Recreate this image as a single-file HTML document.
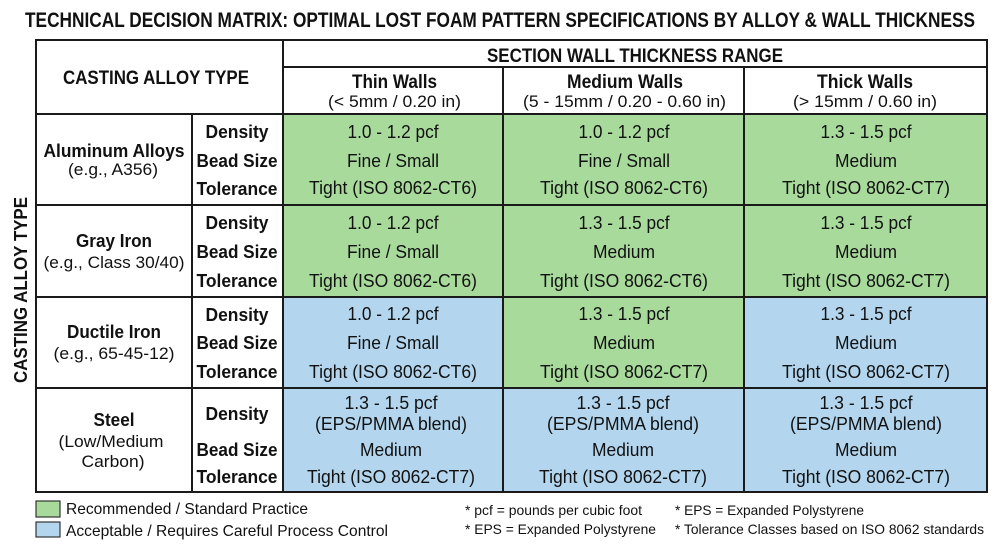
<!DOCTYPE html>
<html><head><meta charset="utf-8"><style>
html,body{margin:0;padding:0;background:#fff;}
svg{display:block;}
text{font-family:"Liberation Sans",Arial,sans-serif;fill:#111;}
.b{font-weight:bold;}
</style></head><body>
<svg width="1000" height="545" viewBox="0 0 1000 545" xmlns="http://www.w3.org/2000/svg">
<rect width="1000" height="545" fill="#fff"/>
<!-- title -->
<text class="b" x="25" y="27" font-size="21" textLength="950" lengthAdjust="spacingAndGlyphs">TECHNICAL DECISION MATRIX: OPTIMAL LOST FOAM PATTERN SPECIFICATIONS BY ALLOY &amp; WALL THICKNESS</text>

<!-- cell fills -->
<g>
<rect x="283" y="114" width="220" height="91" fill="#a8da9c"/>
<rect x="503" y="114" width="241" height="91" fill="#a8da9c"/>
<rect x="744" y="114" width="243" height="91" fill="#a8da9c"/>
<rect x="283" y="205" width="220" height="92" fill="#a8da9c"/>
<rect x="503" y="205" width="241" height="92" fill="#a8da9c"/>
<rect x="744" y="205" width="243" height="92" fill="#a8da9c"/>
<rect x="283" y="297" width="220" height="91" fill="#b3d6ee"/>
<rect x="503" y="297" width="241" height="91" fill="#a8da9c"/>
<rect x="744" y="297" width="243" height="91" fill="#b3d6ee"/>
<rect x="283" y="388" width="220" height="104" fill="#b3d6ee"/>
<rect x="503" y="388" width="241" height="104" fill="#b3d6ee"/>
<rect x="744" y="388" width="243" height="104" fill="#b3d6ee"/>
</g>

<!-- grid lines -->
<g stroke="#1a1a1a" stroke-width="2" fill="none">
<rect x="36" y="40" width="951" height="452"/>
<line x1="283" y1="40" x2="283" y2="492"/>
<line x1="192" y1="114" x2="192" y2="492"/>
<line x1="503" y1="67" x2="503" y2="492"/>
<line x1="744" y1="67" x2="744" y2="492"/>
<line x1="283" y1="67" x2="987" y2="67"/>
<line x1="36" y1="114" x2="987" y2="114"/>
<line x1="36" y1="205" x2="987" y2="205"/>
<line x1="36" y1="297" x2="987" y2="297"/>
<line x1="36" y1="388" x2="987" y2="388"/>
</g>

<!-- headers -->
<text class="b" x="63" y="84" font-size="19" textLength="186" lengthAdjust="spacingAndGlyphs">CASTING ALLOY TYPE</text>
<text class="b" x="487" y="62" font-size="19" textLength="296" lengthAdjust="spacingAndGlyphs">SECTION WALL THICKNESS RANGE</text>
<text class="b" x="352" y="88" font-size="19" textLength="85" lengthAdjust="spacingAndGlyphs">Thin Walls</text>
<text x="328" y="107" font-size="17" textLength="133" lengthAdjust="spacingAndGlyphs">(&lt; 5mm / 0.20 in)</text>
<text class="b" x="567" y="88" font-size="19" textLength="116" lengthAdjust="spacingAndGlyphs">Medium Walls</text>
<text x="523" y="107" font-size="17" textLength="203" lengthAdjust="spacingAndGlyphs">(5 - 15mm / 0.20 - 0.60 in)</text>
<text class="b" x="817" y="88" font-size="19" textLength="96" lengthAdjust="spacingAndGlyphs">Thick Walls</text>
<text x="793" y="107" font-size="17" textLength="144" lengthAdjust="spacingAndGlyphs">(&gt; 15mm / 0.60 in)</text>

<!-- vertical label -->
<text class="b" transform="translate(27,290) rotate(-90)" x="-93" y="0" font-size="18.5" textLength="186" lengthAdjust="spacingAndGlyphs">CASTING ALLOY TYPE</text>

<!-- alloy names -->
<g text-anchor="middle">
<text class="b" x="114" y="157" font-size="18" textLength="141" lengthAdjust="spacingAndGlyphs">Aluminum Alloys</text>
<text x="113" y="175" font-size="17" textLength="90" lengthAdjust="spacingAndGlyphs">(e.g., A356)</text>
<text class="b" x="114" y="247" font-size="18" textLength="76" lengthAdjust="spacingAndGlyphs">Gray Iron</text>
<text x="114" y="268" font-size="17" textLength="141" lengthAdjust="spacingAndGlyphs">(e.g., Class 30/40)</text>
<text class="b" x="114" y="338" font-size="18" textLength="94" lengthAdjust="spacingAndGlyphs">Ductile Iron</text>
<text x="114" y="359" font-size="17" textLength="121" lengthAdjust="spacingAndGlyphs">(e.g., 65-45-12)</text>
<text class="b" x="114" y="426" font-size="18" textLength="41" lengthAdjust="spacingAndGlyphs">Steel</text>
<text x="111" y="447" font-size="17" textLength="105" lengthAdjust="spacingAndGlyphs">(Low/Medium</text>
<text x="113" y="467" font-size="17" textLength="63" lengthAdjust="spacingAndGlyphs">Carbon)</text>
</g>

<!-- property labels -->
<g text-anchor="middle" class="b">
<text class="b" x="237" y="138" font-size="18" textLength="63" lengthAdjust="spacingAndGlyphs">Density</text>
<text class="b" x="237" y="167" font-size="18" textLength="81" lengthAdjust="spacingAndGlyphs">Bead Size</text>
<text class="b" x="237" y="195" font-size="18" textLength="81" lengthAdjust="spacingAndGlyphs">Tolerance</text>
<text class="b" x="237" y="229" font-size="18" textLength="63" lengthAdjust="spacingAndGlyphs">Density</text>
<text class="b" x="237" y="258" font-size="18" textLength="81" lengthAdjust="spacingAndGlyphs">Bead Size</text>
<text class="b" x="237" y="287" font-size="18" textLength="81" lengthAdjust="spacingAndGlyphs">Tolerance</text>
<text class="b" x="237" y="321" font-size="18" textLength="63" lengthAdjust="spacingAndGlyphs">Density</text>
<text class="b" x="237" y="349" font-size="18" textLength="81" lengthAdjust="spacingAndGlyphs">Bead Size</text>
<text class="b" x="237" y="378" font-size="18" textLength="81" lengthAdjust="spacingAndGlyphs">Tolerance</text>
<text class="b" x="237" y="420" font-size="18" textLength="63" lengthAdjust="spacingAndGlyphs">Density</text>
<text class="b" x="237" y="456" font-size="18" textLength="81" lengthAdjust="spacingAndGlyphs">Bead Size</text>
<text class="b" x="237" y="483" font-size="18" textLength="81" lengthAdjust="spacingAndGlyphs">Tolerance</text>
</g>

<!-- data cells -->
<g text-anchor="middle" font-size="18">
<!-- Aluminum -->
<text x="393" y="138" textLength="91" lengthAdjust="spacingAndGlyphs">1.0 - 1.2 pcf</text>
<text x="393" y="167" textLength="92" lengthAdjust="spacingAndGlyphs">Fine / Small</text>
<text x="393" y="194" textLength="168" lengthAdjust="spacingAndGlyphs">Tight (ISO 8062-CT6)</text>
<text x="624" y="138" textLength="91" lengthAdjust="spacingAndGlyphs">1.0 - 1.2 pcf</text>
<text x="624" y="167" textLength="92" lengthAdjust="spacingAndGlyphs">Fine / Small</text>
<text x="624" y="194" textLength="168" lengthAdjust="spacingAndGlyphs">Tight (ISO 8062-CT6)</text>
<text x="866" y="138" textLength="91" lengthAdjust="spacingAndGlyphs">1.3 - 1.5 pcf</text>
<text x="866" y="167" textLength="62" lengthAdjust="spacingAndGlyphs">Medium</text>
<text x="866" y="194" textLength="168" lengthAdjust="spacingAndGlyphs">Tight (ISO 8062-CT7)</text>
<!-- Gray -->
<text x="393" y="229" textLength="91" lengthAdjust="spacingAndGlyphs">1.0 - 1.2 pcf</text>
<text x="393" y="258" textLength="92" lengthAdjust="spacingAndGlyphs">Fine / Small</text>
<text x="393" y="287" textLength="168" lengthAdjust="spacingAndGlyphs">Tight (ISO 8062-CT6)</text>
<text x="624" y="229" textLength="91" lengthAdjust="spacingAndGlyphs">1.3 - 1.5 pcf</text>
<text x="624" y="258" textLength="62" lengthAdjust="spacingAndGlyphs">Medium</text>
<text x="624" y="287" textLength="168" lengthAdjust="spacingAndGlyphs">Tight (ISO 8062-CT6)</text>
<text x="866" y="229" textLength="91" lengthAdjust="spacingAndGlyphs">1.3 - 1.5 pcf</text>
<text x="866" y="258" textLength="62" lengthAdjust="spacingAndGlyphs">Medium</text>
<text x="866" y="287" textLength="168" lengthAdjust="spacingAndGlyphs">Tight (ISO 8062-CT7)</text>
<!-- Ductile -->
<text x="393" y="320" textLength="91" lengthAdjust="spacingAndGlyphs">1.0 - 1.2 pcf</text>
<text x="393" y="349" textLength="92" lengthAdjust="spacingAndGlyphs">Fine / Small</text>
<text x="393" y="378" textLength="168" lengthAdjust="spacingAndGlyphs">Tight (ISO 8062-CT6)</text>
<text x="624" y="320" textLength="91" lengthAdjust="spacingAndGlyphs">1.3 - 1.5 pcf</text>
<text x="624" y="349" textLength="62" lengthAdjust="spacingAndGlyphs">Medium</text>
<text x="624" y="378" textLength="168" lengthAdjust="spacingAndGlyphs">Tight (ISO 8062-CT7)</text>
<text x="866" y="320" textLength="91" lengthAdjust="spacingAndGlyphs">1.3 - 1.5 pcf</text>
<text x="866" y="349" textLength="62" lengthAdjust="spacingAndGlyphs">Medium</text>
<text x="866" y="378" textLength="168" lengthAdjust="spacingAndGlyphs">Tight (ISO 8062-CT7)</text>
<!-- Steel -->
<text x="391" y="409" textLength="93" lengthAdjust="spacingAndGlyphs">1.3 - 1.5 pcf</text>
<text x="391" y="430" textLength="152" lengthAdjust="spacingAndGlyphs">(EPS/PMMA blend)</text>
<text x="391" y="456" textLength="62" lengthAdjust="spacingAndGlyphs">Medium</text>
<text x="391" y="483" textLength="168" lengthAdjust="spacingAndGlyphs">Tight (ISO 8062-CT7)</text>
<text x="623" y="409" textLength="93" lengthAdjust="spacingAndGlyphs">1.3 - 1.5 pcf</text>
<text x="623" y="430" textLength="152" lengthAdjust="spacingAndGlyphs">(EPS/PMMA blend)</text>
<text x="623" y="456" textLength="62" lengthAdjust="spacingAndGlyphs">Medium</text>
<text x="623" y="483" textLength="168" lengthAdjust="spacingAndGlyphs">Tight (ISO 8062-CT7)</text>
<text x="866" y="409" textLength="93" lengthAdjust="spacingAndGlyphs">1.3 - 1.5 pcf</text>
<text x="866" y="430" textLength="152" lengthAdjust="spacingAndGlyphs">(EPS/PMMA blend)</text>
<text x="866" y="456" textLength="62" lengthAdjust="spacingAndGlyphs">Medium</text>
<text x="866" y="483" textLength="168" lengthAdjust="spacingAndGlyphs">Tight (ISO 8062-CT7)</text>
</g>

<!-- legend -->
<rect x="36" y="501" width="24" height="16" fill="#a8da9c" stroke="#333" stroke-width="1.2"/>
<rect x="36" y="522" width="24" height="15" fill="#b3d6ee" stroke="#333" stroke-width="1.2"/>
<text x="66" y="514" font-size="16" textLength="242" lengthAdjust="spacingAndGlyphs">Recommended / Standard Practice</text>
<text x="66" y="536" font-size="16" textLength="322" lengthAdjust="spacingAndGlyphs">Acceptable / Requires Careful Process Control</text>

<!-- footnotes -->
<text x="465" y="515" font-size="14" textLength="177" lengthAdjust="spacingAndGlyphs">* pcf = pounds per cubic foot</text>
<text x="465" y="534" font-size="14" textLength="191" lengthAdjust="spacingAndGlyphs">* EPS = Expanded Polystyrene</text>
<text x="675" y="515" font-size="14" textLength="189" lengthAdjust="spacingAndGlyphs">* EPS = Expanded Polystyrene</text>
<text x="675" y="534" font-size="14" textLength="309" lengthAdjust="spacingAndGlyphs">* Tolerance Classes based on ISO 8062 standards</text>
</svg>
</body></html>
